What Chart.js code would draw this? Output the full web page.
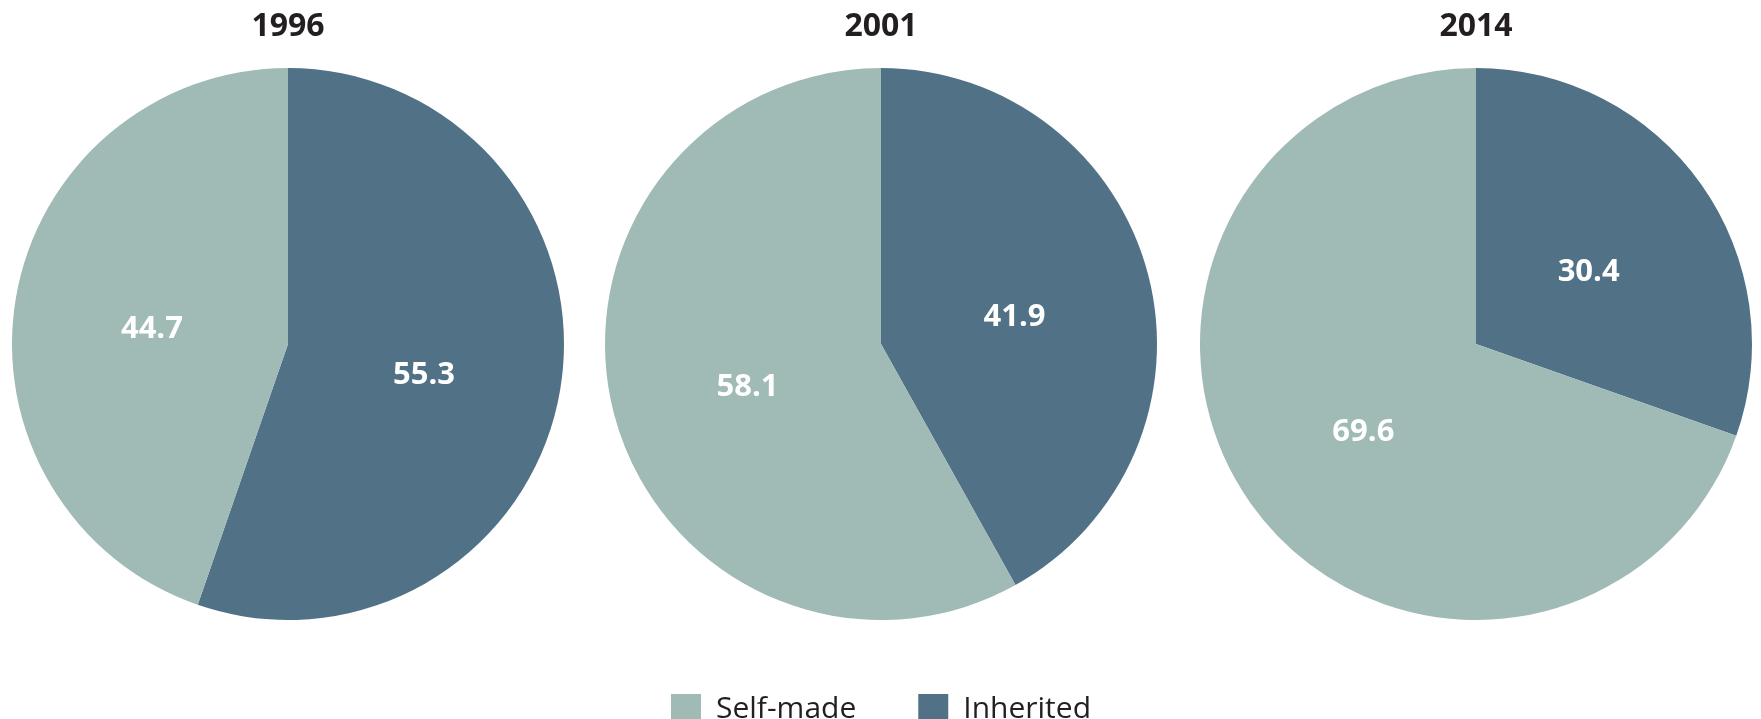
<!DOCTYPE html>
<html>
<head>
<meta charset="utf-8">
<script src="https://cdn.jsdelivr.net/npm/chart.js@4.4.1/dist/chart.umd.min.js"></script>
<style>
  html, body { margin: 0; padding: 0; background: #ffffff; width: 1761px; height: 719px; overflow: hidden; }
  canvas { position: absolute; top: 0; }
</style>
</head>
<body>
<canvas id="c1996" width="560" height="620" style="left:8px"></canvas>
<canvas id="c2001" width="700" height="734" style="left:531px"></canvas>
<canvas id="c2014" width="560" height="620" style="left:1196px"></canvas>
<script>
// ---- data ----
const years = ["1996", "2001", "2014"];
const categories = ["Inherited", "Self-made"];
const inherited = [55.3, 41.9, 30.4];
const selfMade = [44.7, 58.1, 69.6];

// ---- style ----
const colInherited = "#517286";
const colSelfMade = "#a0bab6";
const fontFamily = "'Open Sans', 'DejaVu Sans', sans-serif";

const valueLabels = {
  id: "valueLabels",
  afterDatasetsDraw(chart) {
    const ctx = chart.ctx;
    const meta = chart.getDatasetMeta(0);
    const data = chart.data.datasets[0].data;
    ctx.save();
    ctx.fillStyle = "#ffffff";
    ctx.font = "700 31px " + fontFamily;
    ctx.textAlign = "center";
    ctx.textBaseline = "middle";
    meta.data.forEach((arc, i) => {
      const p = arc.tooltipPosition();
      ctx.fillText(data[i].toFixed(1), p.x, p.y + 8);
    });
    ctx.restore();
  }
};

function makePie(id, idx, showLegend) {
  const titleOpts = {
    display: true,
    text: years[idx],
    color: "#231f20",
    font: { family: fontFamily, size: 32, weight: "700", lineHeight: 1.2 },
    padding: { top: 8, bottom: 21.6 }
  };
  new Chart(document.getElementById(id), {
    type: "pie",
    data: {
      labels: categories,
      datasets: [{
        data: [inherited[idx], selfMade[idx]],
        backgroundColor: [colInherited, colSelfMade],
        borderWidth: 0,
        hoverOffset: 0
      }]
    },
    options: {
      responsive: false,
      animation: false,
      layout: { padding: 0 },
      plugins: {
        title: titleOpts,
        tooltip: { enabled: false },
        legend: {
          display: showLegend,
          position: "bottom",
          reverse: true,
          title: { display: true, text: "", font: { size: 10, lineHeight: 1.2 }, padding: 0 },
          labels: {
            color: "#231f20",
            font: { family: fontFamily, size: 30, weight: "400" },
            boxWidth: 30,
            boxHeight: 30,
            padding: 62
          }
        }
      }
    },
    plugins: [valueLabels]
  });
}

makePie("c1996", 0, false);
makePie("c2001", 1, true);
makePie("c2014", 2, false);
</script>
</body>
</html>
